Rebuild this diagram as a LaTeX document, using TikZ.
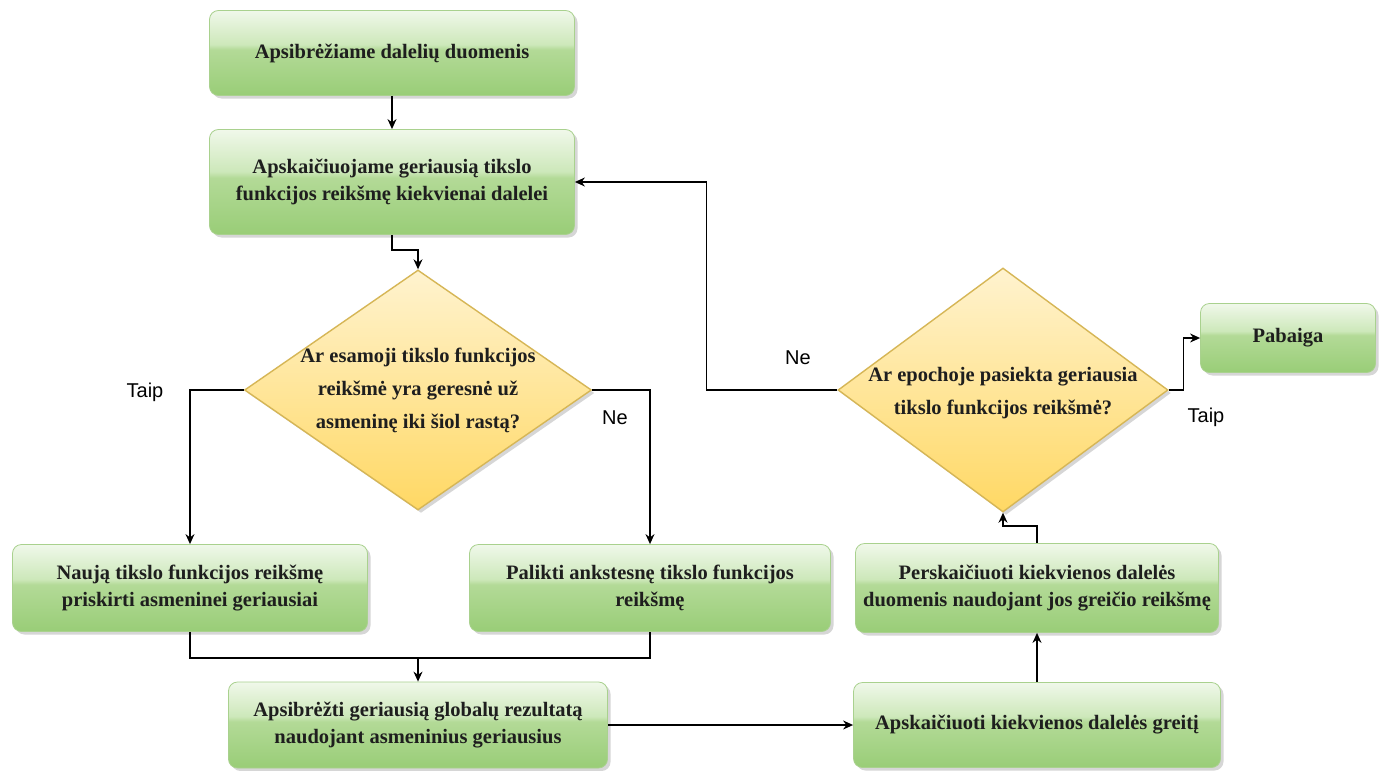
\documentclass[tikz,border=0pt]{standalone}
\usepackage{fontspec}
\setmainfont{Liberation Serif}
\newfontfamily\labelsans{Liberation Sans}
\usetikzlibrary{positioning,shapes.geometric,shadows,arrows.meta}

\definecolor{boxtop}{HTML}{F0F8EA}
\definecolor{boxhi}{HTML}{CDE8BA}
\definecolor{boxmid}{HTML}{B3DA97}
\definecolor{boxbot}{HTML}{99CD77}
\definecolor{boxline}{HTML}{A9D18E}
\definecolor{asktop}{HTML}{FFF3CF}
\definecolor{askbot}{HTML}{FFD864}
\definecolor{askline}{HTML}{D6B656}
\definecolor{inktext}{HTML}{1E1E1E}

\pgfdeclareverticalshading{boxglass}{100bp}{color(0bp)=(boxbot); color(25bp)=(boxbot); color(52bp)=(boxmid); color(55bp)=(boxhi); color(75bp)=(boxtop); color(100bp)=(boxtop)}

\newcommand\boxfont{\fontsize{20.5}{27}\selectfont\bfseries}
\newcommand\askfont{\fontsize{20.5}{33}\selectfont\bfseries}
\newcommand\lblfont{\labelsans\fontsize{20}{23}\selectfont}

\begin{document}
\begin{tikzpicture}[->,>={Stealth[length=10pt,width=9pt]},line width=1.3pt,x=1pt,y=-1pt,
	stepbox/.style={draw=boxline,line width=0.8pt,rounded corners=9pt,shading=boxglass,
		drop shadow={shadow xshift=3pt,shadow yshift=-3pt,fill=black!35,opacity=.45},
		align=center,font=\boxfont,text=inktext,inner sep=0pt},
	ask/.style={diamond,draw=askline,line width=1.4pt,top color=asktop,bottom color=askbot,
		drop shadow={shadow xshift=3pt,shadow yshift=-3pt,fill=black!35,opacity=.45},inner sep=0pt},
	asktext/.style={align=center,font=\askfont,text=inktext,inner sep=0pt},
	lbl/.style={font=\lblfont,inner sep=0pt}]
		\path[use as bounding box,fill=white,-] (0,0) rectangle (1382,771);
		
		\node[stepbox,minimum width=365pt,minimum height=85pt] (init) at (392,53) {Apsibrėžiame dalelių duomenis};
		\node[stepbox,minimum width=365pt,minimum height=105pt] (pbest) at (392,182) {Apskaičiuojame geriausią tikslo\\funkcijos reikšmę kiekvienai dalelei};
		\node[ask,minimum width=347pt,minimum height=240pt] (q1) at (418,390) {};
		\node[asktext] (q1t) at (418,390) {Ar esamoji tikslo funkcijos\\reikšmė yra geresnė už\\asmeninę iki šiol rastą?};
		\node[stepbox,minimum width=355pt,minimum height=87pt] (upd) at (190,588) {Naują tikslo funkcijos reikšmę\\priskirti asmeninei geriausiai};
		\node[stepbox,minimum width=361pt,minimum height=87pt] (keep) at (650,588) {Palikti ankstesnę tikslo funkcijos\\reikšmę};
		\node[stepbox,minimum width=379pt,minimum height=86pt] (gbest) at (418,725) {Apsibrėžti geriausią globalų rezultatą\\naudojant asmeninius geriausius};
		\node[stepbox,minimum width=367pt,minimum height=85pt] (vel) at (1037,725) {Apskaičiuoti kiekvienos dalelės greitį};
		\node[stepbox,minimum width=363pt,minimum height=89pt] (move) at (1037,588) {Perskaičiuoti kiekvienos dalelės\\duomenis naudojant jos greičio reikšmę};
		\node[ask,minimum width=330pt,minimum height=244pt] (q2) at (1003,390) {};
		\node[asktext] (q2t) at (1003,393) {Ar epochoje pasiekta geriausia\\tikslo funkcijos reikšmė?};
		\node[stepbox,minimum width=175pt,minimum height=69pt] (stop) at (1288,338) {Pabaiga};
		
		\node[lbl] (taip1) at (145,392) {Taip};
		\node[lbl] (ne1) at (615,418) {Ne};
		\node[lbl] (ne2) at (798,358) {Ne};
		\node[lbl] (taip2) at (1206,417) {Taip};
		
		\path (init) edge (pbest);
		\draw (pbest.south) -- ++(0,15) -| (q1.north);
		\draw (q1.west) -| (upd.north);
		\draw (q1.east) -| (keep.north);
		\coordinate (merge) at (418,658);
		\draw[-] (upd.south) |- (merge) -| (keep.south);
		\draw (merge) -- (gbest.north);
		\path (gbest) edge (vel);
		\path (vel) edge (move);
		\draw (move.north) -- ++(0,-17) -| (q2.south);
		\draw (q2.west) -- ++(-131,0) |- (pbest.east);
		\draw (q2.east) -- ++(15,0) |- (stop.west);
		
	\end{tikzpicture}
\end{document}
